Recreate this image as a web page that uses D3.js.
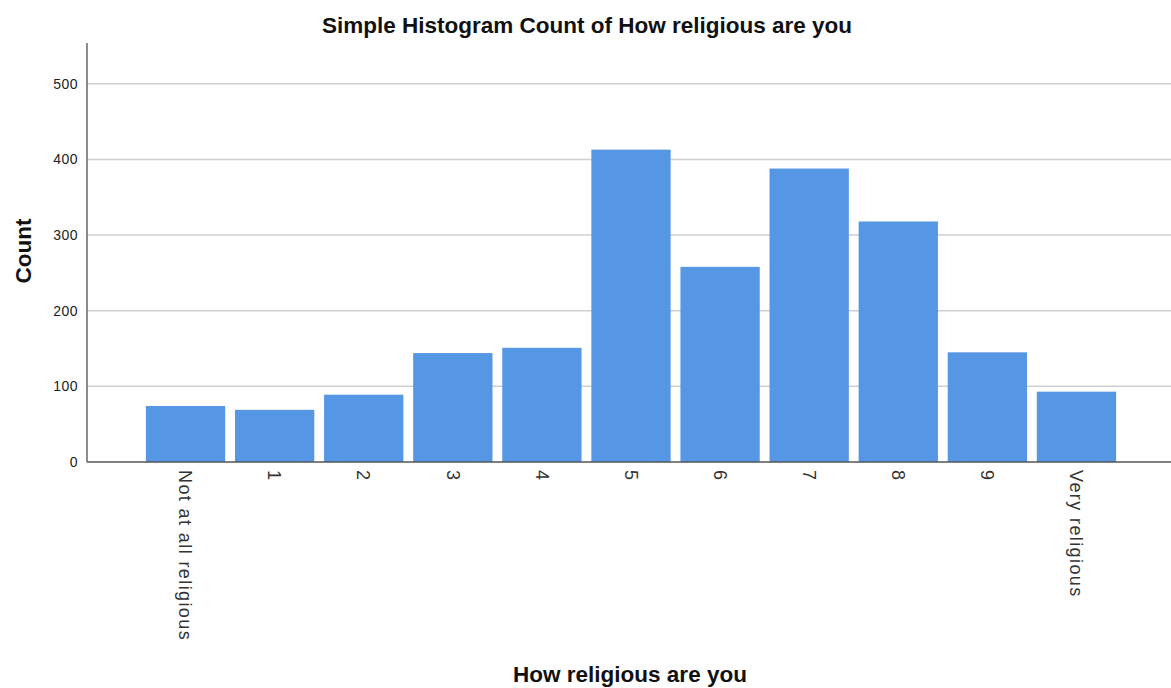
<!DOCTYPE html>
<html><head><meta charset="utf-8">
<script src="https://cdn.jsdelivr.net/npm/d3@7"></script>
<style>body{margin:0;background:#fff;font-family:"Liberation Sans",Arial,sans-serif}</style>
</head><body>
<svg id="c" width="1171" height="688"></svg>
<script>
const categories = ["Not at all religious","1","2","3","4","5","6","7","8","9","Very religious"];
const counts = [74, 69, 89, 144, 151, 413, 258, 388, 318, 145, 93];
const yTicks = [0, 100, 200, 300, 400, 500];

(function () {
const svg = d3.select("#c");
const mL = 87, mR = 1171, mT = 43, mB = 462;
const y = d3.scaleLinear().domain([0, 554]).range([mB, mT]);
const x = d3.scaleBand().domain(categories).range([141, 1121]).paddingInner(0.11).paddingOuter(0.055);

// gridlines
svg.append("g").selectAll("line").data(yTicks.filter(d => d > 0)).join("line")
  .attr("x1", mL).attr("x2", mR).attr("y1", d => y(d)).attr("y2", d => y(d))
  .attr("stroke", "#cfcfcf").attr("stroke-width", 1.5);

// bars
svg.append("g").selectAll("rect").data(counts).join("rect")
  .attr("x", (d, i) => x(categories[i])).attr("width", x.bandwidth())
  .attr("y", d => y(d)).attr("height", d => y(0) - y(d))
  .attr("fill", "#5596e5");

// y axis
const ya = svg.append("g").attr("transform", `translate(${mL},0)`)
  .call(d3.axisLeft(y).tickValues(yTicks).tickSize(0).tickPadding(9));
ya.select(".domain").remove();
ya.selectAll("text").attr("font-size", 14).attr("letter-spacing", 0.5).attr("fill", "#222")
  .attr("font-family", "Liberation Sans, Arial, sans-serif");
svg.append("line").attr("x1", mL).attr("x2", mL).attr("y1", mT).attr("y2", mB).attr("stroke", "#666").attr("stroke-width", 1.5);

// x axis
const xa = svg.append("g").attr("transform", `translate(0,${mB})`)
  .call(d3.axisBottom(x).tickSize(0));
xa.select(".domain").remove();
svg.append("line").attr("x1", mL).attr("x2", mR).attr("y1", mB).attr("y2", mB).attr("stroke", "#555").attr("stroke-width", 1.5);
xa.selectAll("text")
  .attr("font-size", 18).attr("letter-spacing", 1.4).attr("fill", "#333")
  .attr("font-family", "Liberation Sans, Arial, sans-serif")
  .attr("text-anchor", "start").attr("dy", "0.35em")
  .attr("transform", "translate(0,8) rotate(90)").attr("y", 0).attr("x", 0);

// titles
svg.append("text").attr("x", 587).attr("y", 33).attr("text-anchor", "middle")
  .attr("font-size", 22.5).attr("font-weight", "bold").attr("fill", "#111")
  .text("Simple Histogram Count of How religious are you");
svg.append("text").attr("transform", "translate(31,251) rotate(-90)").attr("text-anchor", "middle")
  .attr("font-size", 22.5).attr("font-weight", "bold").attr("fill", "#111").text("Count");
svg.append("text").attr("x", 630).attr("y", 682).attr("text-anchor", "middle")
  .attr("font-size", 22.5).attr("font-weight", "bold").attr("fill", "#111").text("How religious are you");
})();
</script>
</body></html>
